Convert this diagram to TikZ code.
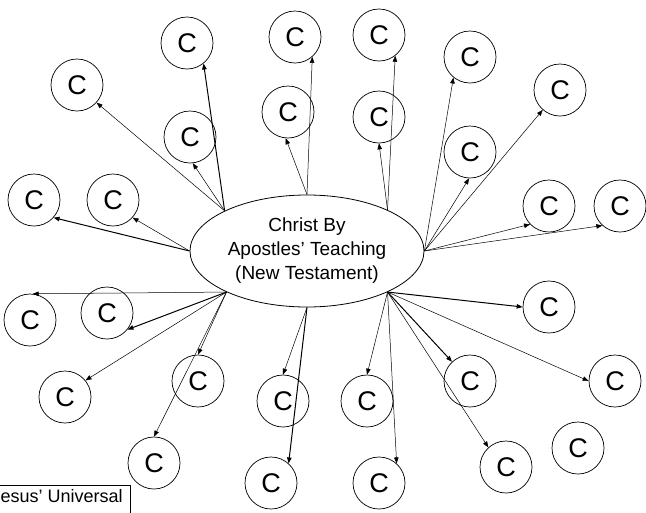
\documentclass[tikz,border=0pt]{standalone}
\usepackage{fontspec}
\setmainfont{Liberation Sans}
\usetikzlibrary{shapes.geometric,arrows.meta}

\begin{document}
\begin{tikzpicture}[x=1pt,y=-1pt,
	circ/.style={draw, circle, line width=0.7pt, minimum size=52pt, inner sep=0pt, font=\fontsize{27}{27}\selectfont},
	lnk/.style={-{Triangle[length=6pt,width=4.5pt]}, line width=0.5pt},
	lnkb/.style={lnk, line width=1pt}]

	\useasboundingbox (0,0) rectangle (646,512);
	\clip (0,0) rectangle (646,512);

% Centro
	\node[draw, ellipse, line width=0.8pt, minimum width=234pt, minimum height=112pt, inner sep=0pt,
		align=center, font=\fontsize{19}{24}\selectfont] (ap) at (307,251) {Christ By\\Apostles’ Teaching\\(New Testament)};

% Circulos
	\foreach \n/\x/\y in {1/77/85, 2/187/43, 3/295/37, 4/379/35, 5/470/57, 6/560/90,
		7/190/137, 8/288/112, 9/379/117, 10/470/152, 11/34/200, 12/113/200,
		13/549/206, 14/620/206, 15/30/320, 16/107/313, 17/65/397, 18/198/381,
		19/154/463, 20/283/401, 21/271/483, 22/367/401, 23/379/483, 24/549/307,
		25/470/381, 26/615/381, 27/578/448, 28/506/467}
		\node[circ] (c\n) at (\x,\y) {C};

% Setas
	\foreach \a/\n/\b in {154/1/318, 154/7/276, 180/12/318, 90/8/265, 90/3/311,
		27/9/270, 27/4/308, 0/5/231, 0/10/268, 0/6/229, 0/13/224, 0/14/228,
		207/15/84, 207/17/39, 207/18/90, 207/19/90, 270/20/90,
		333/22/90, 333/23/48, 333/26/180, 333/28/132}
		\draw[lnk] (ap.\a) -- (c\n.\b);

	\foreach \a/\n/\b in {154/2/309, 180/11/318, 207/16/321, 270/21/48, 333/24/180, 333/25/133}
		\draw[lnkb] (ap.\a) -- (c\n.\b);

% Legenda
	\node[draw, line width=0.7pt, anchor=north east, inner xsep=8pt, inner ysep=4pt,
		text height=13pt, text depth=12pt, font=\fontsize{18}{18}\selectfont] (lg) at (131,485) {Jesus’ Universal};

\end{tikzpicture}
\end{document}
